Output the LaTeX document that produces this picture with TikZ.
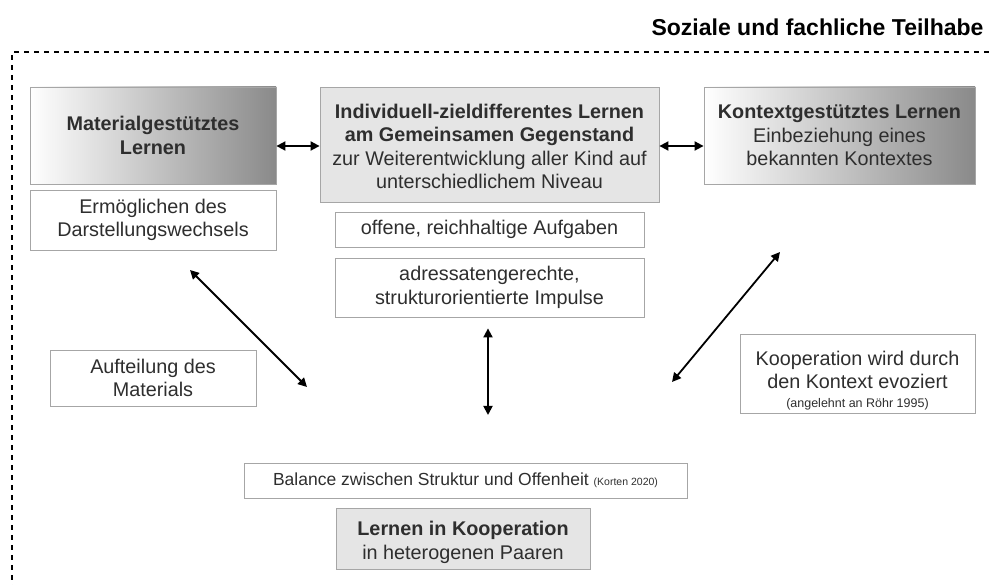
\documentclass[tikz,border=0pt]{standalone}
\usepackage{fontspec}
\setmainfont{Liberation Sans}
\usetikzlibrary{arrows.meta}

\begin{document}
\begin{tikzpicture}[x=1pt,y=-1pt,>={Triangle[length=9pt,width=9pt]},
  box/.style={draw=black!35,line width=0.8pt,align=center,text=black!82,
    font=\fontsize{19.8}{23.5}\selectfont,inner sep=0pt},
  grad/.style={box,left color=white,right color=black!46},
  grey/.style={box,fill=black!10},
  arr/.style={<->,line width=1.8pt}]
\useasboundingbox (0,0) rectangle (989,585);
\node[anchor=east,font=\bfseries\fontsize{23}{27}\selectfont] (title) at (987,27) {Soziale und fachliche Teilhabe};
\draw[line width=2.5pt,dash pattern=on 5pt off 5pt] (989,52) -- (12,52) -- (12,585);
% obere Reihe
\node[grad,minimum width=246,minimum height=97] (mat) at (153,135.5) {\textbf{Materialgestütztes}\\\textbf{Lernen}};
\node[grey,minimum width=339,minimum height=115] (mid) at (489.5,144.5) {\rule{0pt}{18pt}\textbf{Individuell-zieldifferentes Lernen}\\\textbf{am Gemeinsamen Gegenstand}\\zur Weiterentwicklung aller Kind auf\\unterschiedlichem Niveau};
\node[grad,minimum width=271,minimum height=97] (kon) at (839.5,135.5) {\textbf{Kontextgestütztes Lernen}\\Einbeziehung eines\\bekannten Kontextes};
\node[box,minimum width=246,minimum height=60] (erm) at (153,220) {Ermöglichen des\\Darstellungswechsels};
\node[box,minimum width=309,minimum height=35] (aufg) at (489.5,229.5) {offene, reichhaltige Aufgaben};
\node[box,minimum width=309,minimum height=59] (imp) at (489.5,287.5) {adressatengerechte,\\strukturorientierte Impulse};
% mittlere Reihe
\node[box,minimum width=206,minimum height=56] (auft) at (153,378) {Aufteilung des\\Materials};
\node[box,minimum width=235,minimum height=79] (koop) at (857.5,373.5) {\rule{0pt}{28pt}Kooperation wird durch\\den Kontext evoziert\\[-5pt]{\fontsize{12.5}{14}\selectfont(angelehnt an Röhr 1995)}};
% untere Reihe
\node[box,minimum width=443,minimum height=35,font=\fontsize{17.5}{21}\selectfont] (bal) at (465.5,480.5) {Balance zwischen Struktur und Offenheit {\fontsize{10.5}{12}\selectfont(Korten 2020)}};
\node[grey,minimum width=254,minimum height=61] (koopl) at (463,538.5) {\rule{0pt}{22pt}\textbf{Lernen in Kooperation}\\in heterogenen Paaren};
% Pfeile
\coordinate (l1) at (190,270);
\coordinate (l2) at (307,387);
\coordinate (r1) at (780,252);
\coordinate (r2) at (672,382);
\coordinate (c2) at (488,415);
\draw[arr] (mat.east|-0,146) -- (mid.west|-0,146);
\draw[arr] (mid.east|-0,146) -- (kon.west|-0,146);
\draw[arr] (l1) -- (l2);
\draw[arr] (r1) -- (r2);
\draw[arr] ([yshift=-11]imp.south-|c2) -- (c2);
\end{tikzpicture}
\end{document}
